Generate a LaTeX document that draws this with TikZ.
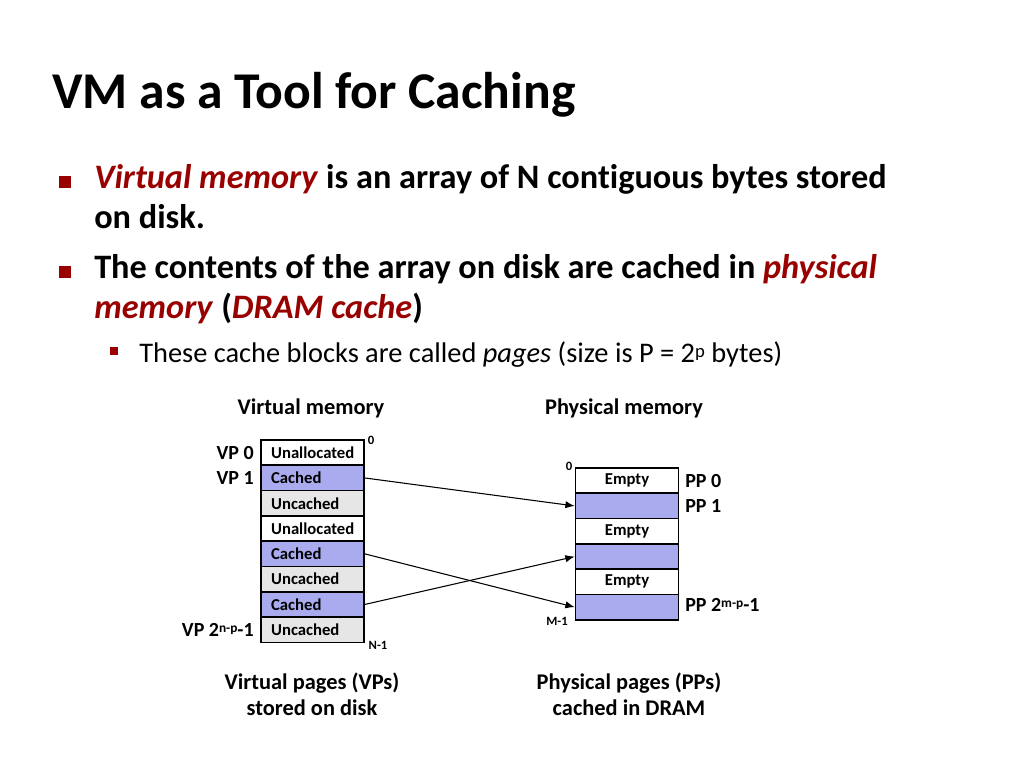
\documentclass[tikz,border=0pt]{standalone}
\usepackage{xcolor}
\usepackage{fontspec}
\setmainfont{Carlito}[Ligatures=NoCommon]
\usepackage{tikz}
\usetikzlibrary{arrows.meta,positioning}

\definecolor{dred}{RGB}{153,0,0}
\definecolor{cachedblue}{RGB}{170,170,238}
\definecolor{uncachedgray}{RGB}{230,230,230}

\begin{document}
\begin{tikzpicture}[x=0.75pt,y=-0.75pt,>={Latex[length=7pt,width=5.5pt]},
    cell/.style={draw,line width=1.2pt,minimum width=77.25pt,minimum height=19pt,inner sep=0pt,
      font=\bfseries\fontsize{12.5}{13}\selectfont},
    vcell/.style={cell,text width=62pt,align=left},
    pcell/.style={cell,align=center},
    cached/.style={fill=cachedblue},
    uncached/.style={fill=uncachedgray},
    lbl/.style={font=\bfseries\fontsize{15}{18}\selectfont,inner sep=0pt},
    head/.style={font=\bfseries\fontsize{16.8}{19.5}\selectfont,inner sep=0pt,align=center},
    idx/.style={font=\bfseries\fontsize{9.5}{11}\selectfont,inner sep=0pt},
    big/.style={font=\bfseries\fontsize{25.7}{30}\selectfont,inner sep=0pt,anchor=base west},
    bsq/.style={fill=dred,inner sep=0pt,minimum size=#1}]
    \useasboundingbox[fill=white] (0,0) rectangle (1024,768);

    % title and bullets
    \node[font=\bfseries\fontsize{38.7}{44}\selectfont,inner sep=0pt,anchor=base west] (title) at (52,108) {VM as a Tool for Caching};

    \node[bsq=9pt] (sq1) at (65,182) {};
    \node[big] (l1) at (94,188) {\textcolor{dred}{\textit{Virtual memory}} is an array of N contiguous bytes stored};
    \node[big] (l2) at (94,228) {on disk.};
    \node[bsq=9pt] (sq2) at (65,272) {};
    \node[big] (l3) at (94,278) {The contents of the array on disk are cached in \textcolor{dred}{\textit{physical}}};
    \node[big] (l4) at (94,318) {\textcolor{dred}{\textit{memory}} (\textcolor{dred}{\textit{DRAM cache}})};
    \node[bsq=6pt] (sq3) at (114,351) {};
    \node[font=\fontsize{21.3}{25}\selectfont,inner sep=0pt,anchor=base west] (l5) at (139,362)
      {These cache blocks are called \textit{pages} (size is P = 2{\fontsize{14}{14}\selectfont\raisebox{0.55ex}{p}} bytes)};

    % virtual pages
    \node[head] (vmhead) at (311,408) {Virtual memory};
    \node[vcell] (vp0) at (312.5,452.65) {Unallocated};
    \node[vcell,cached] (vp1) at (312.5,477.95) {Cached};
    \node[vcell,uncached] (vp2) at (312.5,503.25) {Uncached};
    \node[vcell] (vp3) at (312.5,528.55) {Unallocated};
    \node[vcell,cached] (vp4) at (312.5,553.85) {Cached};
    \node[vcell,uncached] (vp5) at (312.5,579.15) {Uncached};
    \node[vcell,cached] (vp6) at (312.5,604.45) {Cached};
    \node[vcell,uncached] (vp7) at (312.5,629.75) {Uncached};

    \node[lbl,anchor=east] (vp0l) at (254,453) {VP 0};
    \node[lbl,anchor=east] (vp1l) at (254,478) {VP 1};
    \node[lbl,anchor=east] (vp7l) at (254,630) {VP 2{\fontsize{10}{10}\selectfont\raisebox{0.6ex}{n-p}}-1};
    \node[idx] (vtop) at (371,440) {0};
    \node[idx] (vbot) at (378,645) {N-1};
    \node[head] (vpfoot) at (312,694) {Virtual pages (VPs)\\stored on disk};

    % physical pages
    \node[head] (pmhead) at (624,408) {Physical memory};
    \node[pcell] (pp0) at (627,480.65) {Empty};
    \node[pcell,cached] (pp1) at (627,505.95) {};
    \node[pcell] (pp2) at (627,531.25) {Empty};
    \node[pcell,cached] (pp3) at (627,556.55) {};
    \node[pcell] (pp4) at (627,581.85) {Empty};
    \node[pcell,cached] (pp5) at (627,607.15) {};

    \node[lbl,anchor=west] (pp0l) at (685,481) {PP 0};
    \node[lbl,anchor=west] (pp1l) at (685,506) {PP 1};
    \node[lbl,anchor=west] (pp5l) at (685,605) {PP 2{\fontsize{10}{10}\selectfont\raisebox{0.6ex}{m-p}}-1};
    \node[idx] (ptop) at (569,466) {0};
    \node[idx] (pbot) at (557,621) {M-1};
    \node[head] (ppfoot) at (629,694) {Physical pages (PPs)\\cached in DRAM};

    % mapping
    \draw[->,line width=0.8pt] (vp1.east) -- (pp1.west);
    \draw[->,line width=0.8pt] (vp4.east) -- (pp5.west);
    \draw[->,line width=0.8pt] (vp6.east) -- (pp3.west);
\end{tikzpicture}
\end{document}
